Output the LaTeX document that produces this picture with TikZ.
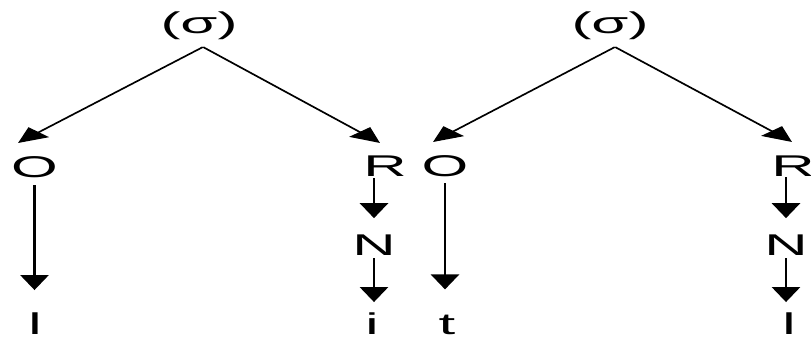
\documentclass[tikz,border=0pt]{standalone}
\usepackage{fontspec}
\setmainfont{Liberation Sans}
\usetikzlibrary{arrows.meta}
\begin{document}
\begin{tikzpicture}[x=1pt,y=-1pt]
\useasboundingbox[fill=white] (0,0) rectangle (811,337);
\begin{scope}[transform canvas={xscale=2},
  lbl/.style={inner sep=0pt, anchor=base, font=\fontsize{30}{36}\selectfont},
  arr/.style={-{Triangle[width=14pt,length=15pt]}, line width=1.3pt}]
% tree 1
\node[lbl] (s1) at (99.5,34) {(σ)};
\node[lbl] (o1) at (17.25,177) {O};
\node[lbl] (r1) at (192.5,176) {R};
\node[lbl] (n1) at (187,255) {N};
\node[lbl] (b1) at (17.5,334) {l};
\node[lbl] (b2) at (186,334) {i};
\coordinate (a1) at (101.5,47);
\coordinate (o1t) at (9,143);
\coordinate (r1t) at (190,143);
\draw[arr] (a1) -- (o1t);
\draw[arr] (a1) -- (r1t);
\draw[arr, shorten <=8pt, shorten >=22pt] (o1.south) -- (o1.south |- b1.north);
\draw[arr, shorten <=2pt, shorten >=16pt] (n1 |- r1.south) -- (n1.north);
\draw[arr, shorten <=3pt, shorten >=10pt] (n1.south) -- (n1.south |- b2.north);
% tree 2
\node[lbl] (s2) at (305,34) {(σ)};
\node[lbl] (o2) at (222.5,176) {O};
\node[lbl] (t2) at (223.5,334) {t};
\node[lbl] (r2) at (396.5,176) {R};
\node[lbl] (n2) at (393,255) {N};
\node[lbl] (b4) at (394.5,334) {l};
\coordinate (a2) at (307.5,47);
\coordinate (o2t) at (216.5,142);
\coordinate (r2t) at (396,142);
\draw[arr] (a2) -- (o2t);
\draw[arr] (a2) -- (r2t);
\draw[arr, shorten <=7pt, shorten >=25pt] (o2.south) -- (o2.south |- t2.north);
\draw[arr, shorten <=1pt, shorten >=16pt] (n2 |- r2.south) -- (n2.north);
\draw[arr, shorten <=3pt, shorten >=10pt] (n2.south) -- (n2.south |- b4.north);
\end{scope}
\end{tikzpicture}
\end{document}
